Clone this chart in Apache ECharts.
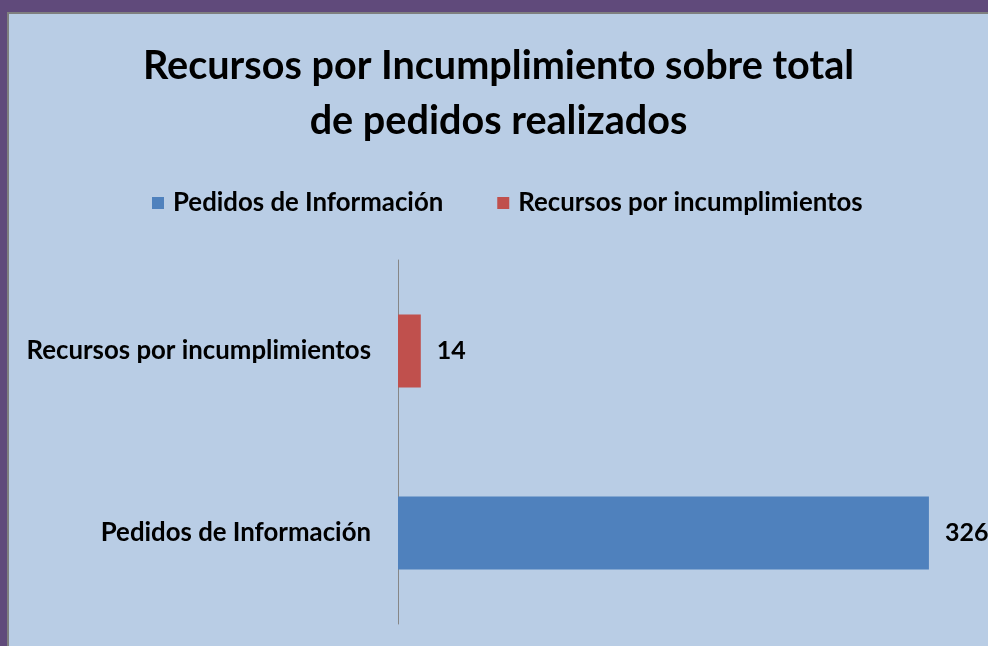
<!DOCTYPE html>
<html>
<head>
<meta charset="utf-8">
<script src="https://cdn.jsdelivr.net/npm/echarts@6/dist/echarts.min.js"></script>
<style>
html, body { margin: 0; padding: 0; width: 988px; height: 646px; background: #604a7b; overflow: hidden; }
#frame { position: absolute; left: 7px; top: 12px; width: 979px; height: 632px;
         border-left: 2px solid #7f7f7f; border-top: 2px solid #7f7f7f; background: #b9cde5; }
#chart { width: 979px; height: 632px; }
</style>
</head>
<body>
<div id="frame"><div id="chart"></div></div>
<script>
// categories bottom -> top, as on the category axis
var categories = ['Pedidos de Información', 'Recursos por incumplimientos'];
var values = [326, 14];
var colors = ['#4f81bd', '#c0504d'];

var font = 'Lato, "Open Sans", sans-serif';
var chart = echarts.init(document.getElementById('chart'));

var series = [];
for (var i = 0; i < categories.length; i++) {
    var d = [];
    for (var j = 0; j < categories.length; j++) {
        d.push(i === j ? values[j] : '-');
    }
    series.push({
        name: categories[i],
        type: 'bar',
        stack: 'one',
        barWidth: '40%',
        data: d,
        itemStyle: { color: colors[i] },
        label: {
            show: true,
            position: 'right',
            distance: 16,
            color: '#000',
            fontFamily: font,
            fontWeight: 'bold',
            fontSize: 25
        }
    });
}

var option = {
    animation: false,
    title: {
        text: 'Recursos por Incumplimiento sobre total\nde pedidos realizados',
        left: 'center',
        top: 20,
        textStyle: {
            fontFamily: font,
            fontWeight: 'bold',
            fontSize: 39.6,
            lineHeight: 55,
            color: '#000'
        }
    },
    legend: {
        top: 171,
        left: 138,
        itemWidth: 12,
        itemHeight: 12,
        itemGap: 54,
        icon: 'rect',
        data: categories,
        textStyle: { fontFamily: font, fontSize: 25.8, fontWeight: 'bold', color: '#000', padding: [0, 0, 0, 4] }
    },
    grid: { left: 389, right: 20, top: 246, bottom: 22, containLabel: false },
    xAxis: {
        type: 'value',
        min: 0,
        max: 350,
        show: false,
        splitLine: { show: false }
    },
    yAxis: {
        type: 'category',
        data: categories,
        axisLine: { lineStyle: { color: '#868686', width: 1 } },
        axisTick: { show: false },
        axisLabel: { margin: 27, fontFamily: font, fontSize: 25.8, fontWeight: 'bold', color: '#000' }
    },
    series: series
};

chart.setOption(option);
</script>
</body>
</html>
